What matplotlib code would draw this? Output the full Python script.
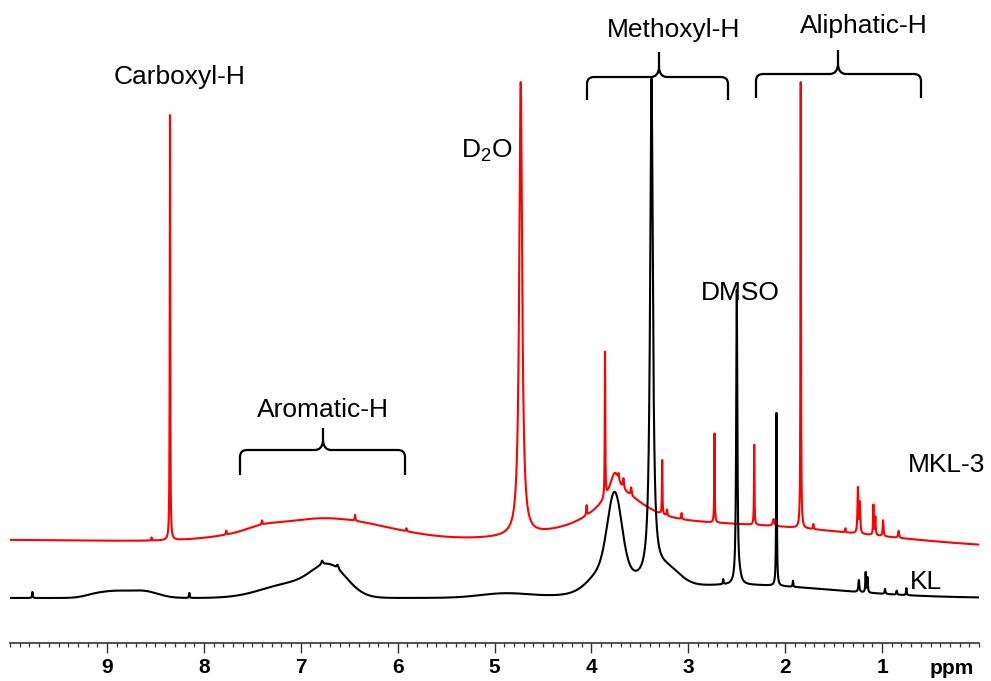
import numpy as np
import matplotlib
matplotlib.use("Agg")
import matplotlib.pyplot as plt
from matplotlib.path import Path
from matplotlib.patches import PathPatch

plt.rcParams['font.family'] = ['Liberation Sans', 'DejaVu Sans']
plt.rcParams['mathtext.fontset'] = 'custom'
plt.rcParams['mathtext.rm'] = 'Liberation Sans'

# ------------------------------------------------------------------ data
ppm_major_ticks = [9, 8, 7, 6, 5, 4, 3, 2, 1]
axis_label = "ppm"

# MKL-3 (red) : baseline from 10 ppm to 0 ppm
mkl_base_left = 103
mkl_base_right = 94
# broad components (centre ppm, height, width, kind g=gauss l=lorentz)
mkl_broad_ppm = [6.75, 7.40, 3.70, 3.76, 2.50]
mkl_broad_height = [24, 3, 36, 24, 20]
mkl_broad_width = [0.65, 0.15, 0.35, 0.06, 1.40]
mkl_broad_kind = ['g', 'g', 'l', 'l', 'g']
# sharp peaks
mkl_peak_ppm = [8.54, 8.35, 7.77, 7.40, 6.44, 5.91, 4.73, 4.05, 3.86, 3.72,
                3.67, 3.59, 3.27, 3.22, 3.07, 2.73, 2.32, 2.12, 1.84, 1.71,
                1.38, 1.25, 1.23, 1.09, 1.07, 0.99, 0.83]
mkl_peak_height = [3, 425, 4, 4, 6, 3, 453, 10, 145, 6,
                   10, 8, 54, 6, 6, 89, 80, 7, 446, 5,
                   4, 45, 30, 30, 18, 16, 7]
mkl_peak_width = [0.004, 0.003, 0.004, 0.004, 0.004, 0.004, 0.018, 0.004, 0.003, 0.005,
                  0.006, 0.006, 0.003, 0.004, 0.004, 0.003, 0.003, 0.01, 0.003, 0.004,
                  0.004, 0.005, 0.005, 0.004, 0.004, 0.005, 0.006]

# KL (black)
kl_base = 45
kl_broad_ppm = [9.10, 8.90, 8.63, 7.10, 6.70, 4.90, 3.80, 3.76, 3.25, 2.50]
kl_broad_height = [4, 5, 7, 14, 28, 4, 30, 70, 20, 13]
kl_broad_width = [0.12, 0.12, 0.15, 0.30, 0.18, 0.25, 0.18, 0.07, 0.15, 1.0]
kl_broad_kind = ['g'] * 10
kl_peak_ppm = [9.77, 8.15, 6.78, 6.62, 3.38, 2.64, 2.50, 2.47, 2.09, 1.92,
               1.24, 1.17, 1.15, 0.97, 0.85, 0.75]
kl_peak_height = [6, 5, 4, 4, 495, 5, 293, 6, 173, 6,
                  12, 20, 15, 5, 4, 7]
kl_peak_width = [0.004, 0.004, 0.01, 0.01, 0.017, 0.004, 0.007, 0.02, 0.004, 0.004,
                 0.006, 0.004, 0.004, 0.005, 0.005, 0.004]

series_names = ["MKL-3", "KL"]

# ------------------------------------------------------------------ helpers
x = np.linspace(10, 0, 40001)


def build(base_l, base_r, bp, bh, bw, bk, pp, ph, pw):
    y = base_r + (base_l - base_r) * x / 10.0
    for c, h, w, k in zip(bp, bh, bw, bk):
        if k == 'g':
            y = y + h * np.exp(-(x - c) ** 2 / (2 * w * w))
        else:
            y = y + h / (1 + ((x - c) / w) ** 2)
    for c, h, w in zip(pp, ph, pw):
        y = y + h / (1 + ((x - c) / w) ** 2)
    return y


y_mkl = build(mkl_base_left, mkl_base_right, mkl_broad_ppm, mkl_broad_height,
              mkl_broad_width, mkl_broad_kind, mkl_peak_ppm, mkl_peak_height, mkl_peak_width)
y_kl = build(kl_base, kl_base, kl_broad_ppm, kl_broad_height, kl_broad_width,
             kl_broad_kind, kl_peak_ppm, kl_peak_height, kl_peak_width)

# ------------------------------------------------------------------ figure
W, H = 991, 681
fig = plt.figure(figsize=(W / 100, H / 100), dpi=100)
ax_left, ax_right, ax_bottom = 10.1, 979.0, 643.0
ax = fig.add_axes([ax_left / W, (H - ax_bottom) / H, (ax_right - ax_left) / W, ax_bottom / H])
ax.set_xlim(10, 0)
ax.set_ylim(0, ax_bottom)
PXPP = (ax_right - ax_left) / 10.0


def ppm_of(px):
    return 10 - (px - ax_left) / PXPP


ax.plot(x, y_mkl, color='#ff0000', lw=1.5, solid_joinstyle='round')
ax.plot(x, y_kl, color='black', lw=1.5, solid_joinstyle='round')

for s in ['top', 'right', 'left']:
    ax.spines[s].set_visible(False)
ax.spines['bottom'].set_color('#333333')
ax.spines['bottom'].set_linewidth(1.2)
ax.set_yticks([])
ax.set_xticks(ppm_major_ticks)
ax.set_xticklabels([str(t) for t in ppm_major_ticks])
ax.set_xticks(np.arange(0, 10.01, 0.1), minor=True)
ax.tick_params(axis='x', which='major', length=7, width=1.0, color='#333333',
               labelsize=15, pad=4)
ax.tick_params(axis='x', which='minor', length=3, width=0.9, color='#333333')
tick_family = ['Liberation Sans Narrow', 'Liberation Sans', 'DejaVu Sans']
for lab in ax.get_xticklabels():
    lab.set_fontweight('bold')
    lab.set_family(tick_family)
ax.text(ppm_of(952), -25, axis_label, ha='center', va='center', fontsize=15,
        fontweight='bold', family=tick_family, clip_on=False)


def brace(xl_px, xr_px, xt_px, ybar, yend, ytop, r=7, c=8, rise=9):
    verts = [(xl_px, yend), (xl_px, ybar - r), (xl_px, ybar), (xl_px + r, ybar),
             (xt_px - c, ybar), (xt_px - 1, ybar), (xt_px, ybar + rise), (xt_px, ytop),
             (xt_px, ybar + rise), (xt_px + 1, ybar), (xt_px + c, ybar),
             (xr_px - r, ybar), (xr_px, ybar), (xr_px, ybar - r), (xr_px, yend)]
    codes = [Path.MOVETO, Path.LINETO, Path.CURVE3, Path.CURVE3,
             Path.LINETO, Path.CURVE3, Path.CURVE3, Path.LINETO,
             Path.MOVETO, Path.CURVE3, Path.CURVE3,
             Path.LINETO, Path.CURVE3, Path.CURVE3, Path.LINETO]
    verts = [(ppm_of(vx), vy) for vx, vy in verts]
    ax.add_patch(PathPatch(Path(verts, codes), fill=False, lw=1.6,
                           edgecolor='black', capstyle='butt', joinstyle='round'))


def py(p):
    return ax_bottom - p


brace(240, 405, 323, py(450), py(475), py(428))
brace(587, 728, 659, py(77), py(100), py(52))
brace(756, 921, 838, py(74), py(98), py(50))

fs = 19
ax.text(ppm_of(180), py(84), "Carboxyl-H", ha='center', va='baseline', fontsize=fs)
ax.text(ppm_of(487), py(157), r"D$_\mathrm{2}$O", ha='center', va='baseline', fontsize=fs)
ax.text(ppm_of(323), py(417), "Aromatic-H", ha='center', va='baseline', fontsize=fs)
ax.text(ppm_of(674), py(37), "Methoxyl-H", ha='center', va='baseline', fontsize=fs)
ax.text(ppm_of(864), py(33), "Aliphatic-H", ha='center', va='baseline', fontsize=fs)
ax.text(ppm_of(740), py(300), "DMSO", ha='center', va='baseline', fontsize=fs)
ax.text(ppm_of(908), py(472), series_names[0], ha='left', va='baseline', fontsize=fs,
        clip_on=False)
ax.text(ppm_of(910), py(589), series_names[1], ha='left', va='baseline', fontsize=fs,
        clip_on=False)

fig.savefig("out.png", dpi=100)
